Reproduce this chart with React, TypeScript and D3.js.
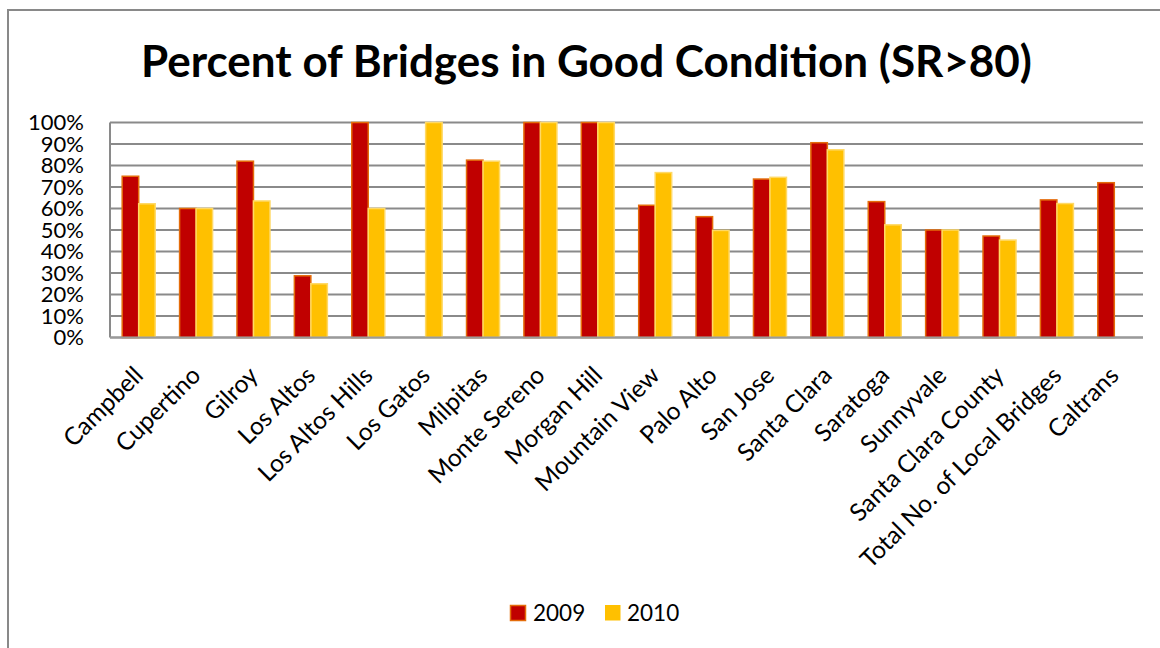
import React from "react";
import * as d3 from "d3";

const categories = [
  "Campbell", "Cupertino", "Gilroy", "Los Altos", "Los Altos Hills", "Los Gatos",
  "Milpitas", "Monte Sereno", "Morgan Hill", "Mountain View", "Palo Alto", "San Jose",
  "Santa Clara", "Saratoga", "Sunnyvale", "Santa Clara County", "Total No. of Local Bridges", "Caltrans",
];
const values2009: (number | null)[] = [75, 60, 82, 28.7, 100, null, 82.5, 100, 100, 61.5, 56.2, 73.7, 90.6, 63.2, 50, 47.2, 64, 72];
const values2010: (number | null)[] = [62.2, 60, 63.5, 25, 60, 100, 82, 100, 100, 76.7, 49.8, 74.5, 87.3, 52.4, 50, 45.3, 62.3, null];
const yTicks = [0, 10, 20, 30, 40, 50, 60, 70, 80, 90, 100];
const seriesNames = ["2009", "2010"];
const title = "Percent of Bridges in Good Condition (SR>80)";

const W = 1160, H = 648;
const plot = { left: 110, right: 1143, top: 122.5, bottom: 337.5 };
const font = "Lato, 'Open Sans', sans-serif";

export default function App() {
  const x = d3.scaleBand<string>().domain(categories).range([plot.left, plot.right]).paddingInner(0).paddingOuter(0);
  const y = d3.scaleLinear().domain([0, 100]).range([plot.bottom, plot.top]);
  const bw = x.bandwidth() * 0.2875;
  const series = [
    { name: seriesNames[0], vals: values2009, fill: "#C00000", stroke: "#E46C0A" },
    { name: seriesNames[1], vals: values2010, fill: "#FFC000", stroke: "#FFD966" },
  ];
  return (
    <svg width={W} height={H} style={{ position: "absolute", left: 0, top: 0, background: "#fff" }} fontFamily={font}>
      <rect x={8} y={10} width={1200} height={700} fill="#fff" stroke="#898989" strokeWidth={2} />
      <text x={586.5} y={77} textAnchor="middle" fontSize={44} fontWeight="bold" fill="#000">{title}</text>
      {yTicks.map((t) => (
        <g key={t}>
          <line x1={plot.left} x2={plot.right} y1={y(t)} y2={y(t)} stroke="#8a8a8a" strokeWidth={2} />
          <text x={plot.left - 26} y={y(t)} dy="0.36em" textAnchor="end" fontSize={22} fill="#000">{t + "%"}</text>
        </g>
      ))}
      <line x1={plot.left} x2={plot.left} y1={plot.top} y2={plot.bottom} stroke="#8a8a8a" strokeWidth={2} />
      {series.map((s, si) => (
        <g key={s.name}>
          {categories.map((c, i) => {
            const v = s.vals[i];
            if (v == null) return null;
            const cx = (x(c) as number) + x.bandwidth() / 2;
            const bx = cx - bw + si * bw;
            return (
              <rect key={c} x={bx} y={y(v)} width={bw} height={plot.bottom - y(v)}
                fill={s.fill} stroke={s.stroke} strokeWidth={1.5} />
            );
          })}
        </g>
      ))}
      <line x1={plot.left} x2={plot.right} y1={plot.bottom} y2={plot.bottom} stroke="#9a9a9a" strokeWidth={2} />
      {categories.map((c) => {
        const cx = (x(c) as number) + x.bandwidth() / 2;
        const ax = cx + 6, ay = 377;
        return (
          <text key={c} x={ax} y={ay} textAnchor="end" fontSize={24.5} fill="#000"
            transform={`rotate(-45, ${ax}, ${ay})`}>{c}</text>
        );
      })}
      <g>
        <rect x={510.5} y={605.5} width={15} height={15} fill="#C00000" stroke="#E46C0A" strokeWidth={1.5} />
        <text x={533} y={613} dy="0.36em" fontSize={22.5} fill="#000">{seriesNames[0]}</text>
        <rect x={605} y={605} width={15.5} height={15.5} fill="#FFC000" />
        <text x={627} y={613} dy="0.36em" fontSize={22.5} fill="#000">{seriesNames[1]}</text>
      </g>
    </svg>
  );
}
